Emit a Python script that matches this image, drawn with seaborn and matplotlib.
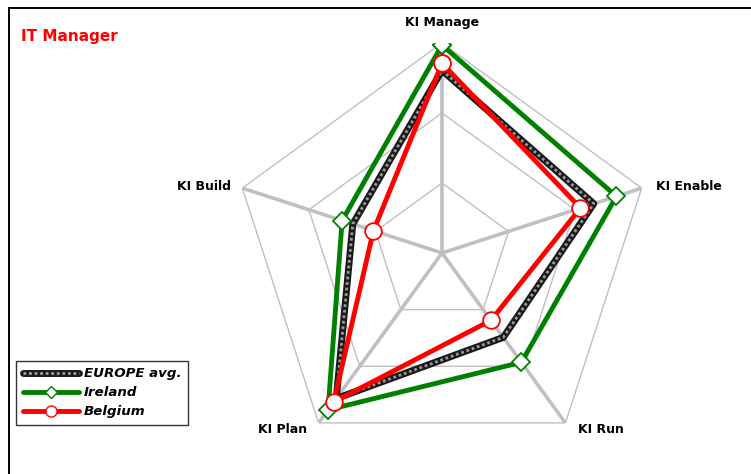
import numpy as np
import pandas as pd
import seaborn as sns
import matplotlib
matplotlib.use("Agg")
import matplotlib.pyplot as plt
from matplotlib.patches import Rectangle

# Competence areas, clockwise from the top
categories = ["KI Manage", "KI Enable", "KI Run", "KI Plan", "KI Build"]

# Scores on a 0-3 scale
europe_avg = [2.61, 2.28, 1.49, 2.57, 1.34]
ireland = [2.97, 2.62, 1.93, 2.77, 1.50]
belgium = [2.71, 2.08, 1.19, 2.63, 1.03]

series_names = ["EUROPE avg.", "Ireland", "Belgium"]
rings = [1, 2, 3]
r_max = 3

sns.set_theme(style="white")
plt.rcParams["font.family"] = ["DejaVu Sans"]
plt.rcParams["text.color"] = "black"

fig = plt.figure(figsize=(7.51, 4.74), dpi=100)
ax = fig.add_axes([232 / 751, 11 / 474, 420 / 751, 420 / 474], projection="polar")
ax.set_theta_offset(np.pi / 2)
ax.set_theta_direction(-1)
ax.set_ylim(0, r_max)
ax.grid(False)
ax.spines["polar"].set_visible(False)
ax.set_xticks([])
ax.set_yticks([])
ax.set_facecolor("none")

n = len(categories)
theta = np.arange(n) * 2 * np.pi / n
theta_closed = np.append(theta, theta[0])

# Pentagonal rings and spokes
for r in rings:
    ax.plot(theta_closed, [r] * (n + 1), color="#c0c0c0", lw=1.0, zorder=1)
for t in theta:
    ax.plot([t, t], [0, r_max], color="#c0c0c0", lw=2.6, zorder=1,
            solid_capstyle="butt")

def closed(vals):
    return pd.DataFrame({"theta": theta_closed, "r": list(vals) + [vals[0]]})

# Europe average: hatched band
d = closed(europe_avg)
sns.lineplot(data=d, x="theta", y="r", sort=False, estimator=None, ax=ax,
             color="#1a1a1a", lw=5.0, zorder=3)
sns.lineplot(data=d, x="theta", y="r", sort=False, estimator=None, ax=ax,
             color="#9a9a9a", lw=2.0, linestyle=(0, (1, 1)), zorder=3.1)

# Ireland
d = closed(ireland)
sns.lineplot(data=d, x="theta", y="r", sort=False, estimator=None, ax=ax,
             color="#008000", lw=3.5, marker="D", markersize=9,
             markerfacecolor="white", markeredgecolor="#008000",
             markeredgewidth=1.3, zorder=4)

# Belgium
d = closed(belgium)
sns.lineplot(data=d, x="theta", y="r", sort=False, estimator=None, ax=ax,
             color="#ff0000", lw=3.5, marker="o", markersize=12,
             markerfacecolor="white", markeredgecolor="#ff0000",
             markeredgewidth=1.3, zorder=5)

# Category labels around the outer ring
label_specs = {
    "KI Manage": dict(xytext=(0, 15), ha="center", va="center"),
    "KI Enable": dict(xytext=(10, 1), ha="left", va="center"),
    "KI Run": dict(xytext=(9, -5), ha="left", va="center"),
    "KI Plan": dict(xytext=(-8, -5), ha="right", va="center"),
    "KI Build": dict(xytext=(-8, 1), ha="right", va="center"),
}
for t, name in zip(theta, categories):
    spec = label_specs[name]
    ax.annotate(name, xy=(t, r_max), xytext=spec["xytext"],
                textcoords="offset points", ha=spec["ha"], va=spec["va"],
                fontsize=9, fontweight="bold", color="black",
                annotation_clip=False)

# Title
fig.text(21 / 751, 1 - 36 / 474, "IT Manager", color="#ff0000",
         fontsize=11, fontweight="bold", ha="left", va="center")

# Legend
h_eu_a, = ax.plot([], [], color="#1a1a1a", lw=5.0)
h_eu_b, = ax.plot([], [], color="#9a9a9a", lw=2.0, linestyle=(0, (1, 1)))
h_ie, = ax.plot([], [], color="#008000", lw=3.5, marker="D", markersize=6,
                markerfacecolor="white", markeredgecolor="#008000")
h_be, = ax.plot([], [], color="#ff0000", lw=3.5, marker="o", markersize=8,
                markerfacecolor="white", markeredgecolor="#ff0000")
leg = fig.legend([(h_eu_a, h_eu_b), h_ie, h_be], series_names,
                 loc="lower left", bbox_to_anchor=(16 / 751, 1 - 425 / 474),
                 frameon=True, fancybox=False, edgecolor="black",
                 handlelength=4.2, handletextpad=0.4, borderpad=0.5,
                 labelspacing=0.45, borderaxespad=0,
                 prop={"size": 9.6, "weight": "bold", "style": "italic"})
leg.get_frame().set_linewidth(1.0)
for txt in leg.get_texts():
    txt.set_color("black")

# Outer frame
fig.patches.append(Rectangle((9 / 751, -0.1), 1.2, 1 - 7.5 / 474 + 0.1,
                             transform=fig.transFigure, fill=False,
                             edgecolor="black", lw=1.4, zorder=0))

fig.savefig("out.png", dpi=100)
